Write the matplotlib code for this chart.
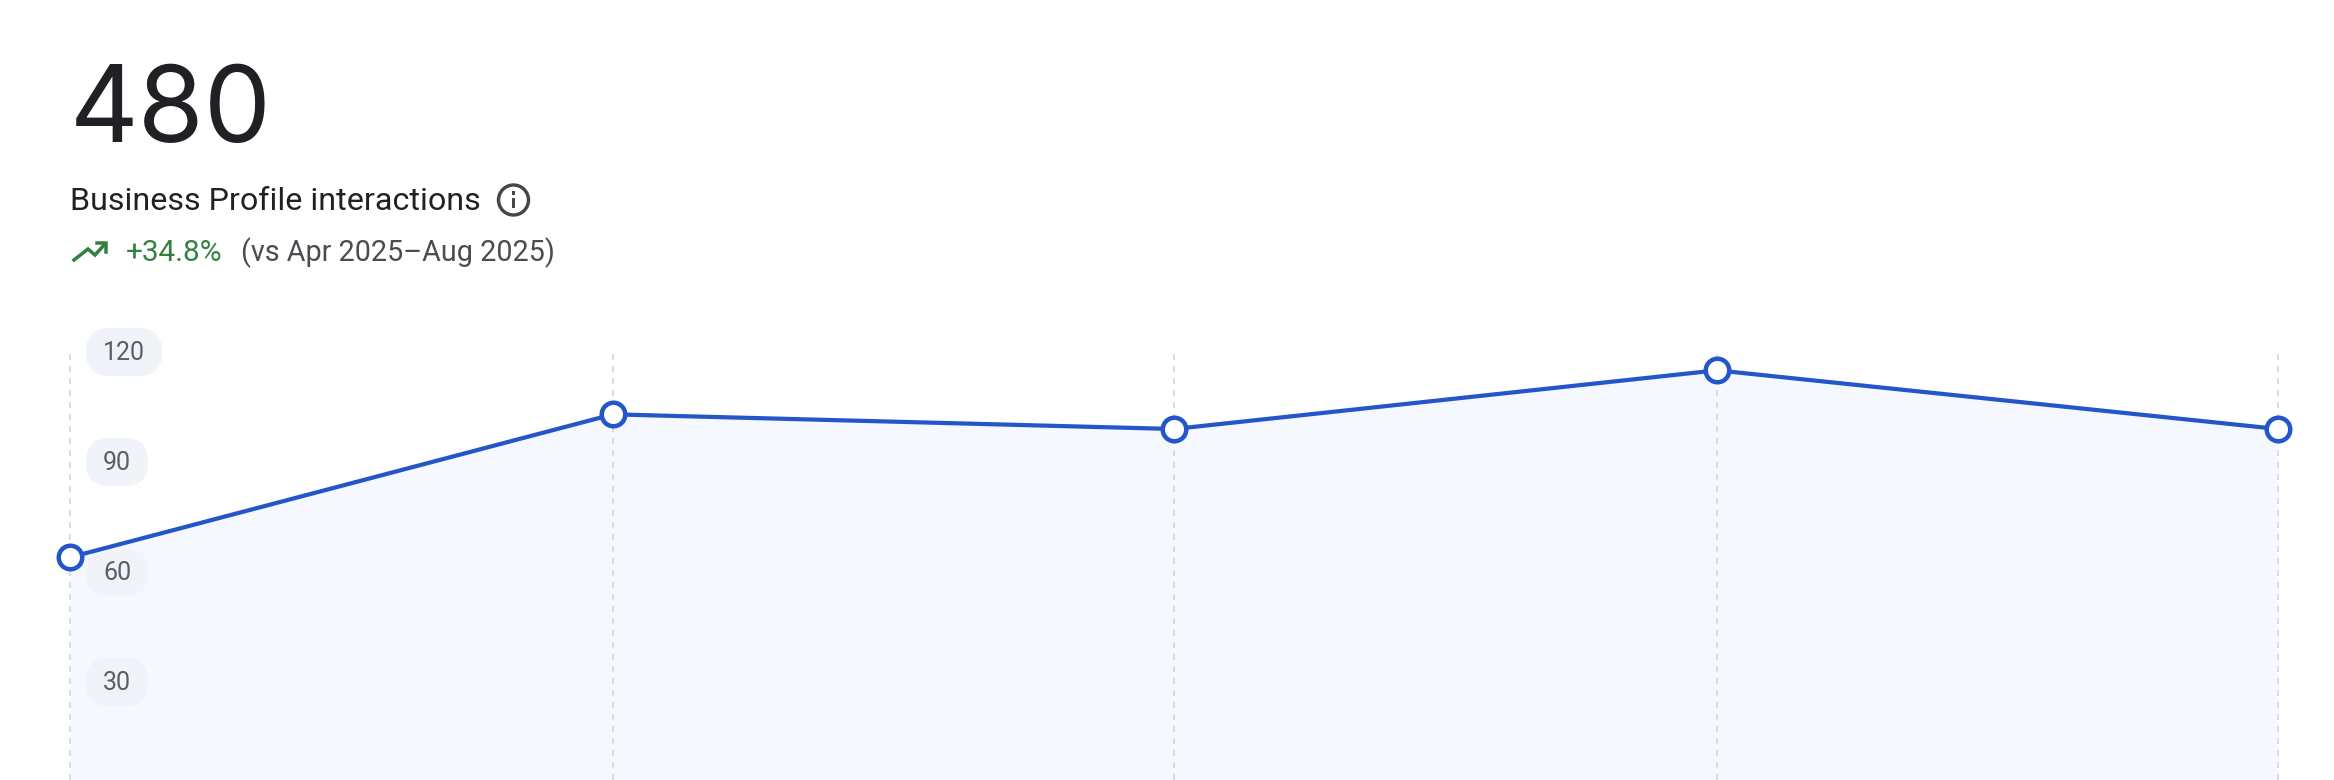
import numpy as np
import pandas as pd
import matplotlib
matplotlib.use("Agg")
import matplotlib.pyplot as plt
from matplotlib.patches import Circle, Rectangle, BoxStyle
from matplotlib.lines import Line2D
from matplotlib.transforms import ScaledTranslation

months = ["2025-09-01", "2025-10-01", "2025-11-01", "2025-12-01", "2026-01-01"]
interactions = [64, 103, 99, 115, 99]
y_ticks = [30, 60, 90, 120]
y_tick_labels = ["30", "60", "90", "120"]
total_text = "480"
title_text = "Business Profile interactions"
delta_text = "+34.8%"
compare_text = "(vs Apr 2025–Aug 2025)"

W, H = 2334, 780
DPI = 100
plt.rcParams["font.family"] = ["Roboto", "DejaVu Sans"]

def pt(px):
    return px * 72 / DPI

fig = plt.figure(figsize=(W / DPI, H / DPI), dpi=DPI, facecolor="white")

def fx(x):
    return x / W

def fy(y):
    return 1 - y / H

# plot area: x 70..2278 px, y 320..780 px; value 0 sits at 792 px, 110 px per 30 units
ax = fig.add_axes([fx(70), 0, (2278 - 70) / W, (780 - 320) / H])
dates = pd.to_datetime(months)
ax.set_xlim(dates[0], dates[-1])
ax.set_ylim((792 - 780) * 30 / 110, (792 - 320) * 30 / 110)
for s in ax.spines.values():
    s.set_visible(False)
ax.patch.set_alpha(0)
ax.set_xticks([])
ax.set_axisbelow(False)

ax.fill_between(dates, 0, interactions, color="#F5F8FF", lw=0, zorder=1)
ax.vlines(dates, 119.45, 0, colors="#DADCE0", linewidth=pt(2), linestyles=(0, (3, 3)),
          zorder=1.5, clip_on=False)

LABEL_SHIFT = 1.5


def pill(x0, y0, width, height, mutation_size):
    pad_x = 17
    pad_y = (48 - height) / 2
    return BoxStyle.Round(pad=0, rounding_size=23)(
        x0 - pad_x, y0 - pad_y + LABEL_SHIFT, width + 2 * pad_x, height + 2 * pad_y, 1)


ax.set_yticks(y_ticks)
ax.set_yticklabels(y_tick_labels)
ax.tick_params(axis="y", length=0, pad=-pt(33), labelsize=pt(25), labelcolor="#5B5E63")
shift = ScaledTranslation(0, -LABEL_SHIFT / DPI, fig.dpi_scale_trans)
for tick in ax.yaxis.get_major_ticks():
    lab = tick.label1
    lab.set_ha("left")
    lab.set_va("center")
    lab.set_bbox(dict(boxstyle=pill, facecolor="#F0F3F8", edgecolor="none"))
    lab.set_transform(lab.get_transform() + shift)

ax.plot(dates, interactions, color="#2456C9", lw=pt(4.2), marker="o", ms=pt(23.5),
        mfc="white", mec="#2456C9", mew=pt(4.5), clip_on=False, zorder=4,
        solid_joinstyle="round")

# header texts
fig.text(fx(70), fy(142), total_text, fontsize=pt(106.5), family=["Inter", "DejaVu Sans"], color="#202124",
         va="baseline", ha="left")
fig.text(fx(70), fy(210), title_text, fontsize=pt(32.3), color="#202124", va="baseline", ha="left")
fig.text(fx(126), fy(261), delta_text, fontsize=pt(29.8), color="#34803F", va="baseline", ha="left")
fig.text(fx(241), fy(261), compare_text, fontsize=pt(28.8), color="#494C50", va="baseline", ha="left")

# info icon
aspect_tr = fig.dpi_scale_trans
fig.add_artist(Circle((513.5 / DPI, (H - 200) / DPI), 15 / DPI, transform=aspect_tr,
                      facecolor="none", edgecolor="#444746", lw=pt(3.4)))
fig.add_artist(Rectangle((512 / DPI, (H - 208) / DPI), 3 / DPI, 10 / DPI, transform=aspect_tr,
                         facecolor="#444746", edgecolor="none"))
fig.add_artist(Rectangle((512 / DPI, (H - 194.5) / DPI), 3 / DPI, 3 / DPI, transform=aspect_tr,
                         facecolor="#444746", edgecolor="none"))

# trend arrow icon
arrow_x = [74, 88, 95, 105]
arrow_y = [260, 249, 255, 244]
fig.add_artist(Line2D([fx(v) for v in arrow_x], [fy(v) for v in arrow_y], color="#34803F",
                      lw=pt(3.5), solid_joinstyle="miter", transform=fig.transFigure))
fig.add_artist(Line2D([fx(97), fx(106), fx(106)], [fy(243), fy(243), fy(252)], color="#34803F",
                      lw=pt(3.5), solid_joinstyle="miter", transform=fig.transFigure))

fig.savefig("out.png", dpi=DPI, facecolor="white")
